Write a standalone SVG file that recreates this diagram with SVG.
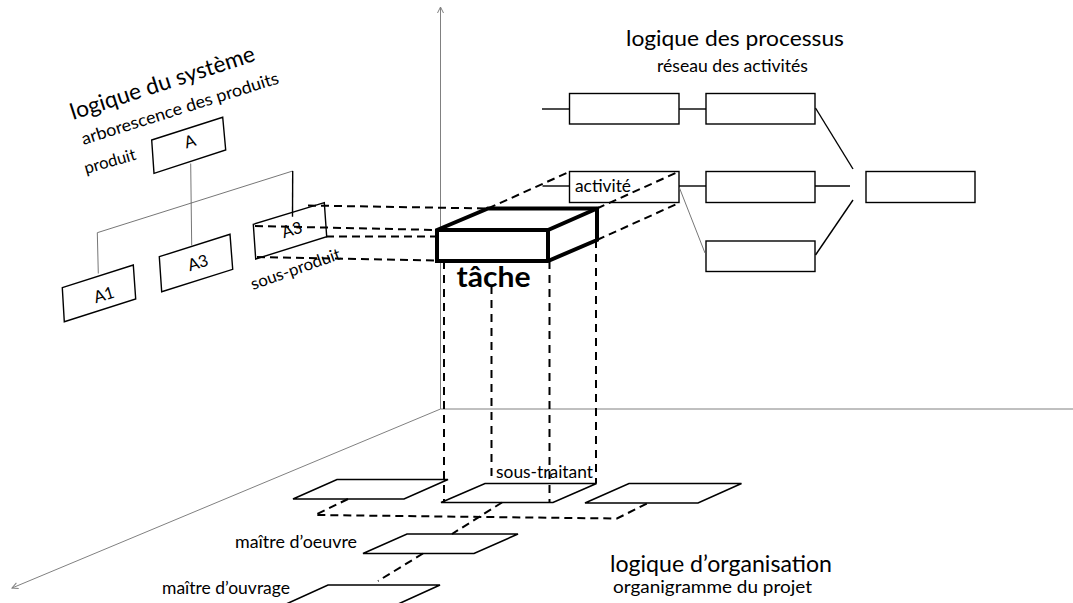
<svg xmlns="http://www.w3.org/2000/svg" width="1073" height="603" viewBox="0 0 1073 603">
<defs>
<style>
.box{fill:#fff;stroke:#000;stroke-width:1.4}
.par{fill:none;stroke:#000;stroke-width:1.6;stroke-linejoin:miter}
.thin{stroke:#666;stroke-width:0.9;fill:none}
.ln{stroke:#000;stroke-width:1.4;fill:none}
.axis{stroke:#808080;stroke-width:1;fill:none}
.dash{stroke:#000;stroke-width:2;stroke-dasharray:8 5;fill:none}
.vd{stroke:#000;stroke-width:2;stroke-dasharray:8 6;fill:none}
.t{font-family:Lato,"Liberation Sans",sans-serif;fill:#000}
</style>
<marker id="arr" markerWidth="8" markerHeight="8" refX="7" refY="4" orient="auto" markerUnits="userSpaceOnUse">
<path d="M1,1 L7,4 L1,7" fill="none" stroke="#808080" stroke-width="1"/>
</marker>
</defs>
<rect width="1073" height="603" fill="#fff"/>

<g id="axes">
<line class="axis" x1="440.5" y1="409" x2="440.5" y2="7" marker-end="url(#arr)"/>
<line class="axis" x1="440.5" y1="409" x2="1073" y2="409"/>
<line class="axis" x1="440.5" y1="409" x2="12" y2="588" marker-end="url(#arr)"/>
</g>

<g id="titles">
<text class="t" font-size="22.5" textLength="193" lengthAdjust="spacingAndGlyphs" transform="translate(73,120) rotate(-18)">logique du système</text>
<text class="t" font-size="17" textLength="206" lengthAdjust="spacingAndGlyphs" transform="translate(83.5,145) rotate(-17.5)">arborescence des produits</text>
<text class="t" font-size="22" x="626" y="46" textLength="218" lengthAdjust="spacingAndGlyphs">logique des processus</text>
<text class="t" font-size="16.5" x="657" y="72" textLength="151" lengthAdjust="spacingAndGlyphs">réseau des activités</text>
<text class="t" font-size="22.5" x="610" y="572" textLength="222" lengthAdjust="spacingAndGlyphs">logique d’organisation</text>
<text class="t" font-size="16.5" x="613" y="592.5" textLength="199" lengthAdjust="spacingAndGlyphs">organigramme du projet</text>
</g>

<g id="tree-labels">
<text class="t" font-size="16.5" textLength="53" lengthAdjust="spacingAndGlyphs" transform="translate(86,174) rotate(-16)">produit</text>
<text class="t" font-size="16.5" textLength="94" lengthAdjust="spacingAndGlyphs" transform="translate(253,290) rotate(-19.5)">sous-produit</text>
</g>

<g id="node-A">
<polygon class="box" points="151.7,140 222.7,117.3 225.7,150 154,173.3"/>
<text class="t" font-size="16.5" text-anchor="middle" transform="translate(190,141.5) rotate(-17)" y="5.5">A</text>
</g>
<g id="node-A1">
<polygon class="box" points="62.3,287.7 133.3,265 135.7,299 64.3,321.7"/>
<text class="t" font-size="16.5" text-anchor="middle" transform="translate(104,295) rotate(-17)" y="5.5">A1</text>
</g>
<g id="node-A3a">
<polygon class="box" points="159.3,256.7 230,234.3 232.7,269.3 161.7,291.7"/>
<text class="t" font-size="16.5" text-anchor="middle" transform="translate(198,263) rotate(-17)" y="5.5">A3</text>
</g>
<g id="node-A3b">
<polygon class="box" points="253.3,224.3 324.3,202.7 326.7,236.7 255.7,259"/>
<text class="t" font-size="16.5" text-anchor="middle" transform="translate(292,230) rotate(-17)" y="5.5">A3</text>
</g>

<g id="process-nodes">
<g id="node-p1"><rect class="box" x="569.5" y="93.5" width="109.5" height="30.5"/></g>
<g id="node-p2"><rect class="box" x="706" y="93.5" width="109" height="30.5"/></g>
<g id="node-activite"><rect class="box" x="569.5" y="171.5" width="109.5" height="31"/>
<text class="t" font-size="16.5" x="575" y="191.5" textLength="56" lengthAdjust="spacingAndGlyphs">activité</text></g>
<g id="node-p4"><rect class="box" x="706" y="171.5" width="109" height="31"/></g>
<g id="node-p5"><rect class="box" x="706" y="241" width="109" height="30.5"/></g>
<g id="node-p6"><rect class="box" x="866" y="171.5" width="109" height="31"/></g>
</g>

<g id="org-nodes">
<g id="node-o1"><polygon class="par" points="337,479.5 448,479.5 404,499 293,499"/></g>
<g id="node-soustraitant"><polygon class="par" points="485,483.5 596.5,483.5 553,502.5 441,502.5"/>
<text class="t" font-size="16.5" x="496" y="477.5" textLength="97" lengthAdjust="spacingAndGlyphs">sous-traitant</text></g>
<g id="node-o3"><polygon class="par" points="629,483.5 741.5,483.5 698,503 585,503"/></g>
<g id="node-moe"><polygon class="par" points="407,534 518,534 474,553.5 363,553.5"/>
<text class="t" font-size="16.5" x="235" y="547.5" textLength="122" lengthAdjust="spacingAndGlyphs">maître d’oeuvre</text></g>
<g id="node-moa"><polygon class="par" points="328,585 440,585 396,605 284,605"/>
<text class="t" font-size="16.5" x="162" y="594" textLength="128" lengthAdjust="spacingAndGlyphs">maître d’ouvrage</text></g>
</g>

<g id="connectors">
<line class="thin" x1="190.7" y1="163.5" x2="191.7" y2="245.5"/>
<line class="thin" x1="97.3" y1="232.7" x2="292.7" y2="171"/>
<line class="thin" x1="97.3" y1="232.7" x2="98.3" y2="273.5"/>
<line class="ln" stroke-width="1" x1="292.7" y1="171" x2="292.5" y2="216.7"/>

<line class="ln" x1="542" y1="109" x2="569.5" y2="109"/>
<line class="ln" x1="679" y1="109" x2="706" y2="109"/>
<line class="ln" x1="542.5" y1="186" x2="569.5" y2="186"/>
<line class="ln" x1="679" y1="186" x2="706" y2="186"/>
<line class="ln" stroke-width="2.2" x1="815" y1="186" x2="850" y2="186"/>
<line class="ln" x1="815.5" y1="108" x2="853" y2="169"/>
<line class="ln" x1="815.5" y1="255" x2="853" y2="200"/>
<line class="thin" x1="679.5" y1="188" x2="705" y2="253"/>

<line class="dash" x1="308" y1="205.5" x2="488" y2="208.5"/>
<line class="dash" x1="255" y1="226" x2="437" y2="230"/>
<line class="dash" x1="326" y1="236.5" x2="437" y2="236.5"/>
<line class="dash" x1="257" y1="257" x2="437" y2="260.5"/>
<line class="dash" x1="488" y1="208.5" x2="570" y2="171.5"/>
<line class="dash" x1="597" y1="208.5" x2="679" y2="171.5"/>
<line class="dash" x1="597" y1="240" x2="680" y2="202.5"/>

<line class="vd" x1="444" y1="261" x2="444" y2="502.5"/>
<line class="vd" x1="491.5" y1="286" x2="491.5" y2="477"/>
<line class="vd" x1="549.5" y1="261" x2="549.5" y2="502"/>
<line class="vd" x1="596" y1="240" x2="596" y2="483.5"/>

<polyline class="dash" points="348,499 315,515 617,518.5 648,503"/>
<line class="dash" x1="502" y1="502.5" x2="452" y2="534"/>
<line class="dash" x1="423" y1="553.5" x2="378" y2="581"/>
</g>

<g id="node-tache">
<polygon fill="#fff" stroke="#000" stroke-width="4" stroke-linejoin="miter" points="437,230 488,208.5 597,208.5 597,240 548,261 437,261"/>
<polyline fill="none" stroke="#000" stroke-width="4" points="437,230 548,230 597,208.5"/>
<line stroke="#000" stroke-width="4" x1="548" y1="230" x2="548" y2="261"/>
<text class="t" font-size="29" font-weight="bold" x="456.5" y="287" textLength="74" lengthAdjust="spacingAndGlyphs">tâche</text>
</g>
</svg>
